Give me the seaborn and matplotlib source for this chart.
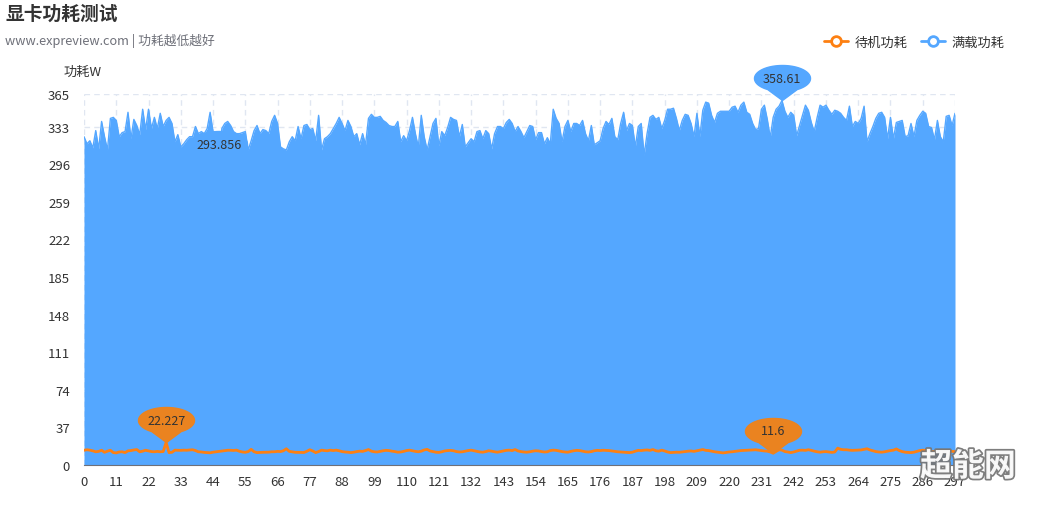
import numpy as np
import pandas as pd
import matplotlib
matplotlib.use("Agg")
import matplotlib.pyplot as plt
import matplotlib.patheffects as pe
from matplotlib.path import Path
from matplotlib.lines import Line2D
import seaborn as sns

sns.set_style("white")
plt.rcParams['font.family'] = ['Noto Sans CJK SC', 'DejaVu Sans']

# 满载功耗 (W), one value per sample
full_load = [
    323, 316, 319, 312, 329, 311, 338, 323, 310, 341,
    342, 339, 323, 327, 328, 347, 321, 340, 334, 325,
    350, 330, 350, 331, 342, 331, 346, 333, 339, 342,
    336, 318, 325, 313, 316, 320, 323, 323, 333, 326,
    328, 326, 331, 347, 328, 326, 293.856, 331, 336, 338,
    334, 328, 326, 326, 327, 328, 310, 319, 329, 334,
    326, 330, 329, 326, 338, 344, 336, 313, 311, 310,
    318, 323, 319, 333, 321, 334, 335, 330, 331, 319,
    344, 310, 321, 323, 326, 331, 336, 342, 336, 329,
    339, 333, 323, 326, 315, 326, 315, 341, 345, 342,
    342, 343, 339, 337, 334, 333, 333, 338, 318, 324,
    319, 329, 342, 326, 313, 344, 323, 310, 323, 336,
    341, 314, 328, 324, 332, 342, 340, 339, 323, 335,
    313, 317, 321, 318, 328, 329, 321, 329, 326, 311,
    326, 333, 333, 331, 337, 340, 336, 328, 333, 328,
    322, 328, 334, 333, 320, 327, 327, 316, 322, 316,
    350, 341, 336, 318, 333, 339, 328, 336, 336, 334,
    339, 326, 319, 334, 315, 317, 319, 331, 338, 335,
    341, 323, 320, 336, 347, 329, 336, 334, 313, 333,
    336, 305, 326, 342, 344, 340, 342, 331, 339, 350,
    350, 351, 341, 329, 339, 345, 344, 336, 323, 346,
    323, 349, 357, 356, 344, 337, 346, 348, 348, 348,
    348, 352, 353, 347, 354, 357, 347, 345, 336, 330,
    331, 350, 354, 340, 322, 342, 350, 353, 358.61, 348,
    342, 347, 344, 324, 334, 344, 354, 349, 337, 328,
    342, 354, 352, 354, 349, 345, 349, 348, 346, 342,
    339, 353, 333, 338, 336, 341, 353, 318, 326, 333,
    341, 346, 347, 342, 321, 342, 321, 337, 338, 339,
    323, 324, 336, 323, 339, 344, 348, 346, 333, 332,
    320, 339, 323, 318, 343, 344, 334, 346,
]

# 待机功耗 (W)
idle = [
    14.5, 15.0, 14.6, 13.9, 13.0, 13.4, 14.5, 12.5, 13.6, 14.5,
    12.2, 11.9, 12.8, 13.0, 12.2, 13.9, 14.2, 14.8, 15.2, 13.0,
    13.6, 14.5, 13.8, 13.2, 13.0, 13.4, 13.0, 13.2, 22.227, 12.2,
    12.5, 14.6, 14.5, 14.4, 14.6, 14.5, 14.8, 15.0, 14.2, 13.0,
    12.8, 12.4, 12.2, 12.0, 12.6, 13.0, 13.4, 13.9, 14.2, 14.5,
    14.5, 14.3, 14.6, 13.5, 12.8, 12.5, 13.2, 15.4, 13.0, 12.2,
    12.4, 12.5, 12.6, 12.6, 13.0, 13.0, 13.4, 13.2, 14.0, 16.0,
    13.4, 13.0, 12.5, 12.4, 12.2, 12.3, 13.5, 15.0, 13.8, 12.2,
    13.2, 14.6, 14.2, 14.0, 14.6, 14.2, 14.6, 14.0, 13.2, 12.8,
    12.6, 12.2, 12.6, 13.2, 13.6, 13.4, 14.2, 15.2, 13.6, 13.0,
    12.8, 13.4, 14.0, 14.4, 14.2, 13.6, 13.2, 12.6, 12.8, 13.4,
    14.2, 14.6, 14.0, 13.4, 13.0, 13.6, 14.8, 15.4, 13.8, 13.2,
    12.6, 12.4, 13.0, 13.8, 14.2, 14.4, 14.0, 13.2, 12.8, 13.0,
    13.6, 14.2, 14.6, 14.0, 13.4, 12.8, 12.6, 13.2, 14.0, 13.6,
    13.0, 12.6, 13.2, 13.8, 14.4, 14.6, 14.2, 15.2, 13.8, 13.2,
    12.8, 12.6, 13.0, 13.6, 14.0, 13.8, 13.2, 12.8, 13.0, 14.2,
    14.6, 14.4, 13.8, 13.2, 12.8, 12.6, 13.4, 14.0, 14.4, 14.2,
    13.6, 13.0, 12.8, 13.2, 14.0, 14.4, 14.2, 14.5, 14.4, 14.2,
    13.8, 13.4, 13.0, 12.8, 12.5, 12.4, 12.2, 12.6, 13.6, 14.4,
    14.2, 14.6, 14.8, 14.4, 15.2, 14.0, 13.6, 14.6, 13.8, 12.8,
    12.2, 12.4, 12.6, 12.5, 12.8, 13.2, 13.6, 13.8, 13.4, 14.0,
    14.6, 15.2, 14.4, 14.2, 13.6, 13.0, 12.6, 12.2, 11.9, 12.4,
    12.8, 13.0, 13.4, 13.8, 14.2, 14.4, 14.5, 14.6, 14.8, 15.0,
    14.6, 14.2, 13.8, 13.6, 12.8, 11.6, 13.4, 15.0, 14.6, 13.2,
    12.8, 12.2, 12.8, 13.6, 14.5, 14.6, 14.4, 15.0, 14.4, 13.6,
    13.0, 12.6, 13.0, 13.2, 12.8, 12.4, 12.8, 16.6, 15.4, 15.0,
    15.0, 14.6, 14.4, 14.5, 14.6, 14.8, 15.4, 16.0, 14.8, 14.0,
    13.2, 12.8, 12.6, 13.0, 13.6, 14.2, 14.6, 15.8, 14.2, 13.2,
    12.6, 12.4, 12.2, 12.6, 13.4, 14.2, 14.6, 14.2, 13.6, 13.2,
    13.4, 14.0, 14.2, 14.4, 14.2, 13.8, 13.4, 13.2,
]

y_ticks = [0, 37, 74, 111, 148, 185, 222, 259, 296, 333, 365]
x_step = 11

BLUE = '#54A7FF'
ORANGE = '#FD8012'
ORANGE_PIN = '#EA8320'
GRID = '#E0E6F1'
AXIS = '#6E7079'
TEXT = '#333333'

df = pd.DataFrame({'idx': np.arange(len(full_load)), 'full': full_load, 'idle': idle})


def pin_marker():
    # balloon shaped marker, tip at the origin
    a, b, c = 28, 13, 22
    th = np.linspace(np.deg2rad(-58), np.deg2rad(238), 80)
    verts = [(a * np.cos(t), c + b * np.sin(t)) for t in th]
    verts.append((0, 0))
    verts.append(verts[0])
    codes = [Path.MOVETO] + [Path.LINETO] * (len(verts) - 2) + [Path.CLOSEPOLY]
    return Path(verts, codes)


PIN = pin_marker()


def add_pin(ax, series, pick, color):
    vals = np.asarray(series)
    i = int(np.argmax(vals)) if pick == 'max' else int(np.argmin(vals))
    v = vals[i]
    ax.plot([i], [v], marker=PIN, ms=50.4, color=color, mec=color,
            linestyle='none', clip_on=False, zorder=5)
    ax.annotate(f'{v:g}', (i, v), xytext=(0, 16), textcoords='offset points',
                ha='center', va='center', fontsize=9, color=TEXT, zorder=6,
                annotation_clip=False)


fig = plt.figure(figsize=(10.42, 5.10), dpi=100)
ax = fig.add_axes([84 / 1042, 1 - 466 / 510, 871 / 1042, 371 / 510])

n = len(full_load)
ax.set_xlim(0, n - 1)
ax.set_ylim(0, 365)

# grid
for x in range(0, n, x_step):
    ax.axvline(x, color=GRID, lw=1, ls=(0, (4, 3)), zorder=0)
for y in y_ticks[1:]:
    ax.axhline(y, color=GRID, lw=1, ls=(0, (4, 3)), zorder=0)

ax.fill_between(df['idx'], df['full'], color=BLUE, lw=0, zorder=2)
sns.lineplot(data=df, x='idx', y='full', color=BLUE, lw=1, ax=ax, zorder=3)
sns.lineplot(data=df, x='idx', y='idle', color=ORANGE, lw=2, ax=ax, zorder=4)

add_pin(ax, full_load, 'max', BLUE)
add_pin(ax, full_load, 'min', BLUE)
add_pin(ax, idle, 'max', ORANGE_PIN)
add_pin(ax, idle, 'min', ORANGE_PIN)

ax.set_xticks(list(range(0, n, x_step)))
ax.set_xticklabels([str(x) for x in range(0, n, x_step)])
ax.set_yticks(y_ticks)
ax.set_yticklabels([str(y) for y in y_ticks])
ax.tick_params(axis='x', length=5, width=1, color=AXIS, labelsize=9.5, labelcolor=TEXT, pad=2)
ax.tick_params(axis='y', length=0, labelsize=9.5, labelcolor=TEXT, pad=10)
ax.set_xlabel('')
ax.set_ylabel('')
for s in ['top', 'right', 'left']:
    ax.spines[s].set_visible(False)
ax.spines['bottom'].set_color(AXIS)
ax.spines['bottom'].set_zorder(7)

fig.text(64 / 1042, 1 - 72 / 510, '功耗W', fontsize=9.5, color=TEXT, va='center', ha='left')
fig.text(5 / 1042, 1 - 14 / 510, '显卡功耗测试', fontsize=13.5, fontweight='bold', color=TEXT,
         va='center', ha='left')
fig.text(5 / 1042, 1 - 41 / 510, 'www.expreview.com | 功耗越低越好', fontsize=9.2, color='#6E7079',
         va='center', ha='left')

handles = [
    Line2D([], [], color=ORANGE, lw=2, marker='o', ms=7, mfc='white', mew=2, mec=ORANGE),
    Line2D([], [], color=BLUE, lw=2, marker='o', ms=7, mfc='white', mew=2, mec=BLUE),
]
fig.legend(handles, ['待机功耗', '满载功耗'], loc='center right',
           bbox_to_anchor=(1016 / 1042, 1 - 43 / 510), ncol=2, frameon=False,
           fontsize=9.5, handlelength=1.8, handletextpad=0.5, columnspacing=1.0,
           labelcolor=TEXT)

fig.text(968 / 1042, 1 - 468 / 510, '超能网', fontsize=23, fontweight='bold', color='white',
         ha='center', va='center', zorder=10, alpha=0.95,
         path_effects=[pe.withStroke(linewidth=2.5, foreground='#777777')])

fig.savefig('out.png', dpi=100)
